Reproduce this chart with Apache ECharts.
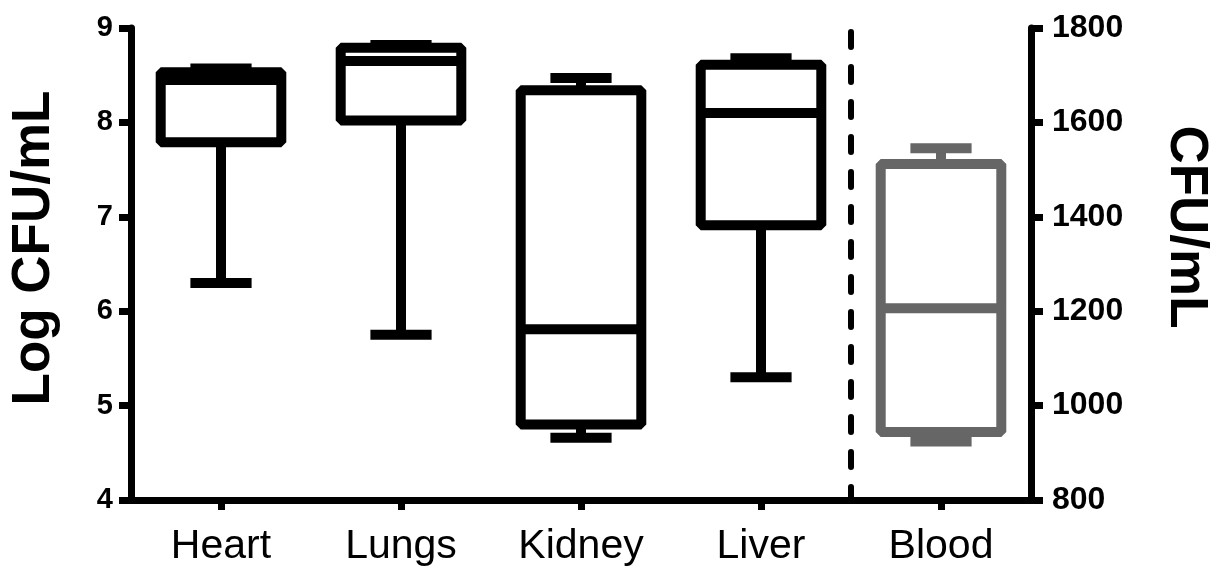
<!DOCTYPE html>
<html>
<head>
<meta charset="utf-8">
<script src="https://cdn.jsdelivr.net/npm/echarts@6/dist/echarts.min.js"></script>
<style>
  html, body { margin: 0; padding: 0; background: #ffffff; }
  #chart { width: 1220px; height: 573px; }
</style>
</head>
<body>
<div id="chart"></div>
<script>
// ---- data ----
const categories = ['Heart', 'Lungs', 'Kidney', 'Liver', 'Blood'];
// organ boxes on the left axis (Log CFU/mL)
const organMin    = [6.30, 5.75, 4.66, 5.30];
const organQ1     = [7.79, 8.02, 4.80, 6.91];
const organMedian = [8.45, 8.65, 5.81, 8.10];
const organQ3     = [8.53, 8.79, 8.34, 8.61];
const organMax    = [8.57, 8.82, 8.47, 8.68];
// blood box on the right axis (CFU/mL): min, q1, median, q3, max
const bloodStats  = [924, 944, 1206, 1512, 1545];
const dividerAfter = 'Liver';
const leftTicks  = [4, 9, 1];       // min, max, interval
const rightTicks = [800, 1800, 200];

const FONT = '"Liberation Sans", Arial, Helvetica, sans-serif';

const organData = categories.slice(0, 4).map((c, i) =>
  [i, organMin[i], organQ1[i], organMedian[i], organQ3[i], organMax[i]]);
const bloodData = [[4].concat(bloodStats)];

function boxRenderer(color) {
  return function (params, api) {
    const x = api.value(0);
    const slot = api.size([1, 0])[0];
    const boxW = slot * 0.67;
    const capW = slot * 0.34;
    const pMin = api.coord([x, api.value(1)]);
    const pQ1 = api.coord([x, api.value(2)]);
    const pMed = api.coord([x, api.value(3)]);
    const pQ3 = api.coord([x, api.value(4)]);
    const pMax = api.coord([x, api.value(5)]);
    const cx = pQ1[0];
    const lw = 10;
    const st = { stroke: color, lineWidth: lw, fill: null, lineCap: 'butt', lineJoin: 'bevel' };
    return {
      type: 'group',
      children: [
        { type: 'line', shape: { x1: cx, y1: pQ1[1], x2: cx, y2: pMin[1] }, style: st },
        { type: 'line', shape: { x1: cx, y1: pQ3[1], x2: cx, y2: pMax[1] }, style: st },
        { type: 'line', shape: { x1: cx - capW / 2, y1: pMin[1], x2: cx + capW / 2, y2: pMin[1] }, style: st },
        { type: 'line', shape: { x1: cx - capW / 2, y1: pMax[1], x2: cx + capW / 2, y2: pMax[1] }, style: st },
        { type: 'rect', shape: { x: cx - boxW / 2, y: pQ3[1], width: boxW, height: pQ1[1] - pQ3[1] },
          style: { stroke: color, lineWidth: lw, fill: '#ffffff', lineJoin: 'bevel' } },
        { type: 'line', shape: { x1: cx - boxW / 2, y1: pMed[1], x2: cx + boxW / 2, y2: pMed[1] }, style: st }
      ]
    };
  };
}

const chart = echarts.init(document.getElementById('chart'), null, { renderer: 'canvas' });
chart.setOption({
  animation: false,
  backgroundColor: '#ffffff',
  grid: { left: 130, right: 178, top: 28, bottom: 73, containLabel: false },
  xAxis: {
    type: 'category',
    data: categories,
    boundaryGap: true,
    axisLine: { show: true, lineStyle: { color: '#000', width: 7 } },
    axisTick: { show: true, alignWithLabel: true, length: 10, lineStyle: { color: '#000', width: 7 } },
    axisLabel: { color: '#000', fontFamily: FONT, fontSize: 41, margin: 26 },
    splitLine: { show: false }
  },
  yAxis: [
    {
      type: 'value', position: 'left',
      min: leftTicks[0], max: leftTicks[1], interval: leftTicks[2],
      name: 'Log CFU/mL', nameLocation: 'middle', nameRotate: 90, nameGap: 70,
      nameTextStyle: { color: '#000', fontFamily: FONT, fontSize: 53, fontWeight: 'bold',
        padding: [0, 0, 0, 32] },
      axisLine: { show: true, lineStyle: { color: '#000', width: 7 } },
      axisTick: { show: true, length: 12, lineStyle: { color: '#000', width: 7 } },
      axisLabel: { color: '#000', fontFamily: FONT, fontSize: 29, fontWeight: 'bold', margin: 18 },
      splitLine: { show: false }
    },
    {
      type: 'value', position: 'right',
      min: rightTicks[0], max: rightTicks[1], interval: rightTicks[2],
      name: 'CFU/mL', nameLocation: 'middle', nameRotate: -90, nameGap: 128,
      nameTextStyle: { color: '#000', fontFamily: FONT, fontSize: 53, fontWeight: 'bold',
        padding: [0, 74, 0, 0] },
      axisLine: { show: true, lineStyle: { color: '#000', width: 7 } },
      axisTick: { show: true, length: 12, lineStyle: { color: '#000', width: 7 } },
      axisLabel: { color: '#000', fontFamily: FONT, fontSize: 32, fontWeight: 'bold', margin: 21,
        formatter: function (v) { return String(v); } },
      splitLine: { show: false }
    }
  ],
  series: [
    {
      name: 'Organs', type: 'custom', xAxisIndex: 0, yAxisIndex: 0,
      renderItem: boxRenderer('#000000'), data: organData,
      encode: { x: 0, y: [1, 2, 3, 4, 5] }, clip: false, z: 3
    },
    {
      name: 'Blood', type: 'custom', xAxisIndex: 0, yAxisIndex: 1,
      renderItem: boxRenderer('#666666'), data: bloodData,
      encode: { x: 0, y: [1, 2, 3, 4, 5] }, clip: false, z: 3
    },
    {
      name: 'Divider', type: 'custom', xAxisIndex: 0, yAxisIndex: 0,
      data: [[categories.indexOf(dividerAfter), leftTicks[0], leftTicks[1]]],
      encode: { x: 0, y: [1, 2] }, clip: false, z: 2,
      renderItem: function (params, api) {
        const x = api.value(0);
        const half = api.size([1, 0])[0] / 2;
        const pB = api.coord([x, api.value(1)]);
        const pT = api.coord([x, api.value(2)]);
        return {
          type: 'line',
          shape: { x1: pB[0] + half, y1: pT[1] + 4, x2: pB[0] + half, y2: pB[1] },
          style: { stroke: '#000', lineWidth: 6, lineCap: 'round', lineDash: [15, 20] }
        };
      }
    }
  ]
});
</script>
</body>
</html>
